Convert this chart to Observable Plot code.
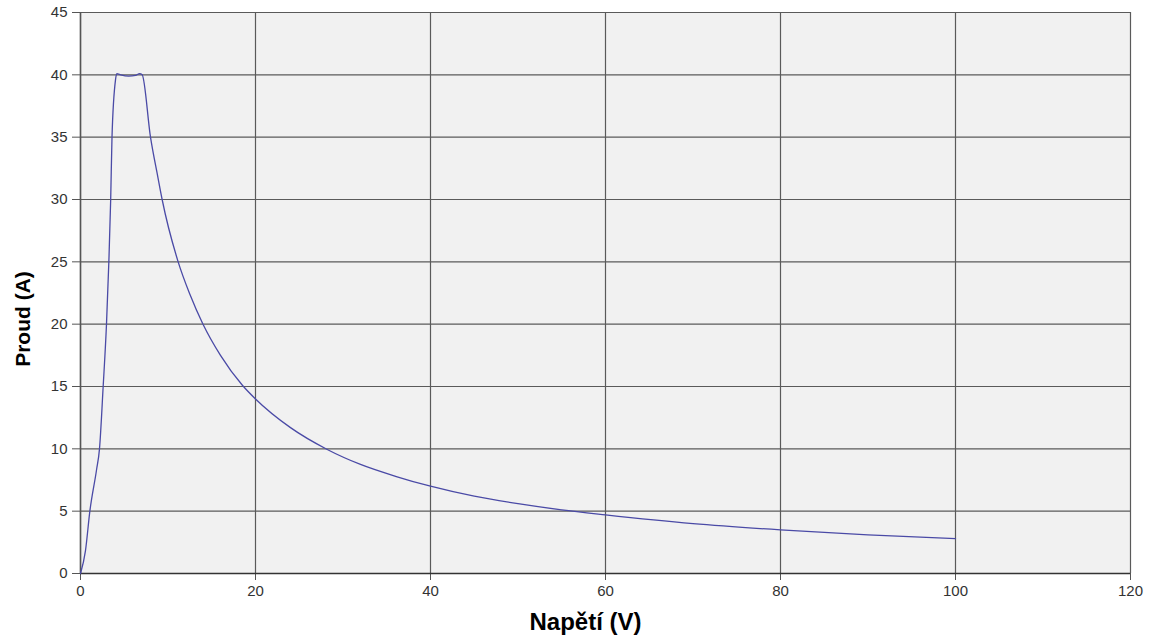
<!DOCTYPE html>
<html>
<head>
<meta charset="utf-8">
<script src="https://cdn.jsdelivr.net/npm/d3@7"></script>
<script src="https://cdn.jsdelivr.net/npm/@observablehq/plot@0.6"></script>
<style>
  html, body { margin: 0; padding: 0; background: #ffffff; }
  #chart svg { display: block; }
</style>
</head>
<body>
<div id="chart"></div>
<script>
// Voltage (V)
const voltage = [0, 0.57, 1.07, 1.83, 2.17, 2.59, 2.97, 3.24, 3.45, 3.6, 4.0, 4.15, 4.6, 5.5, 6.3, 6.75, 7.05, 8.0, 8.84, 9.33, 11.16, 12.5, 14.0, 16, 18.5, 20, 24, 28.2, 32, 36, 40, 45, 50, 55, 60, 70, 80, 90, 100];
// Current (A)
const current = [0, 1.84, 5, 8.3, 10, 15, 20, 25, 30, 35, 39.6, 40.1, 40.0, 39.9, 39.95, 40.1, 40.0, 35, 31.8, 30, 25, 22.4, 20, 17.5, 15.1, 14, 11.7, 9.95, 8.75, 7.8, 7.0, 6.2, 5.6, 5.1, 4.7, 4.0, 3.5, 3.1, 2.8];
const xTicks = [0, 20, 40, 60, 80, 100, 120];
const yTicks = [0, 5, 10, 15, 20, 25, 30, 35, 40, 45];
const xLabel = "Napětí (V)";
const yLabel = "Proud (A)";

const data = voltage.map((v, i) => ({v, i: current[i]}));

const chart = Plot.plot({
  width: 1155,
  height: 639,
  marginLeft: 80,
  marginRight: 25,
  marginTop: 12,
  marginBottom: 66,
  style: {fontFamily: "'Liberation Sans', Arial, sans-serif", background: "#ffffff"},
  x: {domain: [0, 120], ticks: xTicks},
  y: {domain: [0, 45], ticks: yTicks},
  marks: [
    Plot.frame({fill: "#f1f1f1", stroke: null}),
    Plot.gridX(xTicks, {stroke: "#5a5a5a", strokeOpacity: 1, strokeWidth: 1.2}),
    Plot.gridY(yTicks, {stroke: "#5a5a5a", strokeOpacity: 1, strokeWidth: 1.2}),
    Plot.axisX(xTicks, {tickSize: 7, tickPadding: 5, fontSize: 15, color: "#333", stroke: "#555", label: null}),
    Plot.axisY(yTicks, {tickSize: 8, tickPadding: 5, fontSize: 15, color: "#333", stroke: "#555", label: null}),
    Plot.ruleX([0], {stroke: "#555", strokeWidth: 1.5}),
    Plot.ruleY([0], {stroke: "#333", strokeWidth: 1.5}),
    Plot.line(data, {x: "v", y: "i", stroke: "#4a4aa6", strokeWidth: 1.3, curve: "monotone-x"}),
    Plot.text([xLabel], {frameAnchor: "bottom", textAnchor: "middle", lineAnchor: "middle", dy: 49, dx: -20, fontSize: 24, fontWeight: "bold", fill: "#000"}),
    Plot.text([yLabel], {frameAnchor: "left", textAnchor: "middle", lineAnchor: "middle", dx: -57, dy: 26, rotate: -90, fontSize: 21, fontWeight: "bold", fill: "#000"})
  ]
});
document.getElementById("chart").appendChild(chart);
</script>
</body>
</html>
